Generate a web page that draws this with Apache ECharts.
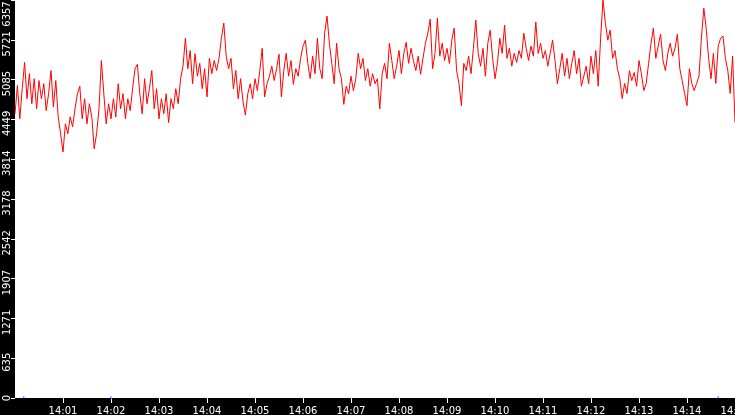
<!DOCTYPE html>
<html>
<head>
<meta charset="utf-8">
<script src="https://cdn.jsdelivr.net/npm/echarts@6/dist/echarts.min.js"></script>
<style>
  html, body { margin: 0; padding: 0; background: #000; }
  #chart-panel { width: 735px; height: 415px; }
</style>
</head>
<body>
<div id="chart-panel"></div>
<script>
// one sample every 3 seconds, starting 14:00:00
var startLabel = '14:00:00'
var stepSeconds = 3
var values = [
  4540, 4990, 4460, 4940, 5360, 4780, 5180, 4700, 5100, 4620,
  5070, 4780, 5020, 4590, 4860, 5230, 4650, 5070, 4490, 4220,
  3930, 4380, 4220, 4490, 4330, 4620, 4860, 4980, 4460, 4780,
  4380, 4700, 4490, 3980, 4220, 4620, 5390, 4860, 4380, 4700,
  4460, 4780, 4490, 5020, 4620, 4860, 4460, 4780, 4590, 4940,
  5260, 5330, 4860, 4540, 5100, 4700, 4940, 5230, 4620, 4940,
  4460, 4780, 4540, 4860, 4400, 4780, 4620, 4940, 4700, 5100,
  5300, 5746, 5260, 5550, 5020, 5500, 5140, 5345, 4940, 5260,
  4810, 5425, 5180, 5390, 5230, 5425, 5746, 5987, 5460, 5260,
  5425, 4940, 5230, 4780, 5100, 4730, 4520, 4860, 5020, 4780,
  5100, 4910, 5230, 5585, 4810, 5020, 5140, 5300, 5070, 5260,
  5490, 4810, 5230, 5505, 5140, 5390, 5010, 5260, 5140, 5425,
  5620, 5715, 5345, 5100, 5460, 5180, 5746, 5260, 5100, 5826,
  6100, 5666, 5345, 5020, 5666, 5260, 5100, 4690, 4980, 4860,
  5140, 4910, 5100, 5505, 5260, 5425, 5070, 5260, 4980, 5180,
  5020, 5100, 4620, 5180, 5345, 5100, 5666, 5390, 5100, 5300,
  5550, 5180, 5505, 5680, 5345, 5585, 5390, 5230, 5460, 5170,
  5425, 5666, 5826, 6050, 5260, 5505, 6067, 5460, 5666, 5390,
  5585, 5345, 5715, 5906, 5230, 5020, 4670, 5345, 5230, 5460,
  5180, 5585, 6035, 5505, 5300, 5585, 5140, 5666, 5875, 5425,
  5100, 5345, 5746, 5505, 5955, 5425, 5585, 5300, 5505, 5360,
  5550, 5425, 5826, 5585, 5390, 5620, 5460, 6005, 5505, 5666,
  5425, 5550, 5300, 5505, 5715, 5390, 5020, 5260, 5505, 5140,
  5425, 5100, 5345, 5550, 5180, 5425, 4980, 5140, 5300, 5020,
  5460, 5180, 5550, 4980, 5746, 6356, 5987, 5715, 5875, 5425,
  5550, 5260, 5100, 4783, 5024, 4863, 5230, 5070, 5200, 4980,
  5390, 5180, 4910, 5024, 5345, 5666, 5906, 5425, 5620, 5810,
  5390, 5230, 5505, 5666, 5460, 5585, 5810, 5260, 5070, 4863,
  4670, 5260, 5024, 4910, 5024, 5140, 5746, 6227, 5906, 5425,
  5100, 5505, 5024, 5620, 5746, 5780, 5425, 5230, 4863, 5460,
  4400
]
// little blue marks sitting on the zero line (seconds after 14:00:00)
var blueMarkSeconds = [11, 120, 879]

var xTickLabels = ['14:01', '14:02', '14:03', '14:04', '14:05', '14:06', '14:07', '14:08',
  '14:09', '14:10', '14:11', '14:12', '14:13', '14:14', '14:15']
var yTickLabels = ['0', '635', '1271', '1907', '2542', '3178', '3814', '4449', '5085', '5721', '6357']

var yMax = 6357
var totalSeconds = 900

var lineData = values.map(function (v, i) {
  return [i * stepSeconds, v]
})
var blueData = blueMarkSeconds.map(function (s) {
  return [s, 0]
})
var xTickSeconds = xTickLabels.map(function (l, i) {
  return (i + 1) * 60
})

var chartOption = {
  backgroundColor: '#000',
  animation: false,
  textStyle: {
    fontFamily: 'DejaVu Sans'
  },
  grid: {
    show: true,
    left: 15,
    right: 0,
    top: 0,
    bottom: 17,
    containLabel: false,
    outerBoundsMode: 'none',
    backgroundColor: '#fff',
    borderWidth: 0
  },
  xAxis: {
    type: 'value',
    min: 0,
    max: totalSeconds,
    interval: 60,
    axisLine: { show: false },
    splitLine: { show: false },
    axisTick: {
      show: true,
      length: 5,
      customValues: xTickSeconds,
      lineStyle: { color: '#fff', width: 1 }
    },
    axisLabel: {
      color: '#fff',
      fontSize: 10,
      margin: 8,
      hideOverlap: false,
      customValues: xTickSeconds,
      formatter: function (value) {
        return xTickLabels[Math.round(value / 60) - 1]
      }
    }
  },
  yAxis: {
    type: 'value',
    min: 0,
    max: yMax,
    interval: yMax / 10,
    axisLine: { show: false },
    splitLine: { show: false },
    axisTick: {
      show: true,
      length: 4,
      lineStyle: { color: '#fff', width: 1 }
    },
    axisLabel: {
      color: '#fff',
      fontSize: 10,
      rotate: 90,
      margin: 3,
      formatter: function (value, index) {
        var i = Math.round(value / (yMax / 10))
        var txt = yTickLabels[i]
        if (i === 0) return '{z|' + txt + '}'
        if (i === 10) return '{t|' + txt + '}'
        return '{n|' + txt + '}'
      },
      rich: {
        z: { color: '#fff', fontSize: 10 },
        n: { color: '#fff', fontSize: 10, padding: [0, 8, 0, 0] },
        t: { color: '#fff', fontSize: 10, padding: [0, 28, 0, 0] }
      }
    }
  },
  series: [{
    type: 'line',
    data: lineData,
    symbol: 'none',
    lineStyle: { color: '#ff0000', width: 1 }
  }, {
    type: 'scatter',
    data: blueData,
    symbol: 'rect',
    symbolSize: [1, 3],
    itemStyle: { color: '#0000ff' }
  }]
}

var myChart = echarts.init(document.getElementById('chart-panel'))
myChart.setOption(chartOption)
</script>
</body>
</html>
